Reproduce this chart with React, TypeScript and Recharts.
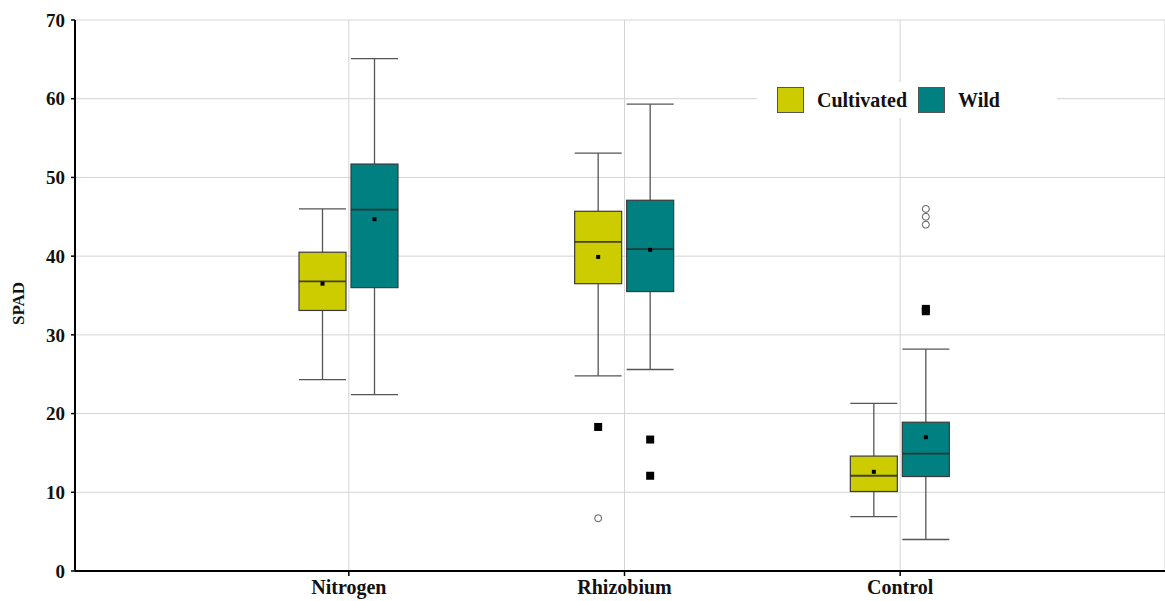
import React from "react";
import { Bar, CartesianGrid, ComposedChart, Legend, XAxis, YAxis } from "recharts";

const categories = ["Nitrogen", "Rhizobium", "Control"];
const yTicks = [0, 10, 20, 30, 40, 50, 60, 70];

// Cultivated
const cultivatedMin = [24.3, 24.8, 6.9];
const cultivatedQ1 = [33.1, 36.5, 10.1];
const cultivatedMedian = [36.8, 41.8, 12.1];
const cultivatedQ3 = [40.5, 45.7, 14.6];
const cultivatedMax = [46.0, 53.1, 21.3];
const cultivatedMean = [36.5, 39.9, 12.6];
const cultivatedOutliers = [[], [18.3], []];
const cultivatedExtremes = [[], [6.7], []];

// Wild
const wildMin = [22.4, 25.6, 4.0];
const wildQ1 = [36.0, 35.5, 12.0];
const wildMedian = [45.9, 40.9, 14.9];
const wildQ3 = [51.7, 47.1, 18.9];
const wildMax = [65.1, 59.3, 28.2];
const wildMean = [44.7, 40.8, 17.0];
const wildOutliers = [[], [16.7, 12.1], [33.3, 33.0]];
const wildExtremes = [[], [], [46.0, 45.0, 44.0]];

const COLORS = { cultivated: "#cccc00", wild: "#008080" };
const FONT = '"Liberation Serif", "Times New Roman", serif';

const data = categories.map((name, i) => ({
  name,
  cultivated: {
    min: cultivatedMin[i],
    q1: cultivatedQ1[i],
    median: cultivatedMedian[i],
    q3: cultivatedQ3[i],
    max: cultivatedMax[i],
    mean: cultivatedMean[i],
    outliers: cultivatedOutliers[i],
    extremes: cultivatedExtremes[i],
  },
  wild: {
    min: wildMin[i],
    q1: wildQ1[i],
    median: wildMedian[i],
    q3: wildQ3[i],
    max: wildMax[i],
    mean: wildMean[i],
    outliers: wildOutliers[i],
    extremes: wildExtremes[i],
  },
  cultivatedRange: [cultivatedMin[i], cultivatedMax[i]],
  wildRange: [wildMin[i], wildMax[i]],
}));

// the bar spans min..max, so its rect gives the y scale for the rest of the box
function makeBoxShape(key: "cultivated" | "wild", fill: string) {
  return (props: any) => {
    const { x, y, width, height, payload } = props;
    const s = payload[key];
    const top = Math.min(y, y + height);
    const h = Math.abs(height);
    const py = (v: number) => top + ((s.max - v) / (s.max - s.min)) * h;
    const cx = x + width / 2;
    const whisker = "#555";
    return (
      <g>
        <line x1={cx} x2={cx} y1={py(s.max)} y2={py(s.q3)} stroke={whisker} strokeWidth={1.3} />
        <line x1={cx} x2={cx} y1={py(s.q1)} y2={py(s.min)} stroke={whisker} strokeWidth={1.3} />
        <line x1={x} x2={x + width} y1={py(s.max)} y2={py(s.max)} stroke={whisker} strokeWidth={1.3} />
        <line x1={x} x2={x + width} y1={py(s.min)} y2={py(s.min)} stroke={whisker} strokeWidth={1.3} />
        <rect
          x={x}
          y={py(s.q3)}
          width={width}
          height={py(s.q1) - py(s.q3)}
          fill={fill}
          stroke="#3a3a3a"
          strokeWidth={1.2}
        />
        <line x1={x} x2={x + width} y1={py(s.median)} y2={py(s.median)} stroke="#2a2a2a" strokeOpacity={0.85} strokeWidth={1.8} />
        <rect x={cx - 2} y={py(s.mean) - 2} width={4} height={4} fill="#000" />
        {s.outliers.map((v: number, j: number) => (
          <rect key={"o" + j} x={cx - 4} y={py(v) - 4} width={8} height={8} fill="#000" />
        ))}
        {s.extremes.map((v: number, j: number) => (
          <circle key={"e" + j} cx={cx} cy={py(v)} r={3.5} fill="#fff" stroke="#555" strokeWidth={1} />
        ))}
      </g>
    );
  };
}

const cultivatedShape = makeBoxShape("cultivated", COLORS.cultivated);
const wildShape = makeBoxShape("wild", COLORS.wild);

const renderLegend = (props: any) => {
  const items = props.payload || [];
  return (
    <div
      style={{
        display: "flex",
        alignItems: "center",
        height: 36,
        background: "#fff",
        paddingLeft: 20,
        fontFamily: FONT,
        fontWeight: "bold",
        fontSize: 20,
        color: "#111",
      }}
    >
      {items.map((it: any, i: number) => (
        <div key={i} style={{ display: "flex", alignItems: "center", marginRight: 11 }}>
          <span
            style={{
              display: "inline-block",
              width: 25,
              height: 24,
              background: it.color,
              border: "1px solid #555",
            }}
          />
          <span style={{ marginLeft: 13 }}>{it.value}</span>
        </div>
      ))}
    </div>
  );
};

const renderYLabel = (props: any) => {
  const vb = props.viewBox;
  const lx = vb.x + 18;
  const ly = vb.y + vb.height / 2 + 8;
  return (
    <text
      x={lx}
      y={ly}
      transform={`rotate(-90, ${lx}, ${ly})`}
      textAnchor="middle"
      dominantBaseline="central"
      fontSize={17}
      fontWeight="bold"
      fontFamily={FONT}
      fill="#111"
    >
      SPAD
    </text>
  );
};

export default function App() {
  const yTickStyle = { fontSize: 19, fontWeight: "bold", fontFamily: FONT, fill: "#111" };
  const xTickStyle = { fontSize: 20, fontWeight: "bold", fontFamily: FONT, fill: "#111" };
  return (
    <div style={{ position: "absolute", left: 0, top: 0, background: "#fff" }}>
      <ComposedChart
        width={1165}
        height={601}
        data={data}
        barGap={5}
        margin={{ top: 20, right: 0, bottom: 0, left: 0 }}
      >
        <CartesianGrid stroke="#d4d4d4" strokeWidth={1} />
        <XAxis
          dataKey="name"
          padding={{ left: 136, right: 127 }}
          height={30}
          tick={xTickStyle}
          tickSize={5}
          tickMargin={4}
          axisLine={{ stroke: "#000", strokeWidth: 2 }}
          tickLine={{ stroke: "#000", strokeWidth: 1.5 }}
        />
        <YAxis
          domain={[0, 70]}
          ticks={yTicks}
          width={75}
          tick={yTickStyle}
          tickSize={4}
          tickMargin={6}
          axisLine={{ stroke: "#000", strokeWidth: 2 }}
          tickLine={{ stroke: "#000", strokeWidth: 1.5 }}
          label={{ value: "SPAD", content: renderYLabel }}
        />
        <Legend
          layout="vertical"
          align="center"
          verticalAlign="middle"
          content={renderLegend}
          wrapperStyle={{ left: 757, top: 82, width: 300, height: 36 }}
        />
        <Bar
          dataKey="cultivatedRange"
          name="Cultivated"
          fill={COLORS.cultivated}
          barSize={47}
          shape={cultivatedShape}
          isAnimationActive={false}
        />
        <Bar
          dataKey="wildRange"
          name="Wild"
          fill={COLORS.wild}
          barSize={47}
          shape={wildShape}
          isAnimationActive={false}
        />
      </ComposedChart>
    </div>
  );
}
